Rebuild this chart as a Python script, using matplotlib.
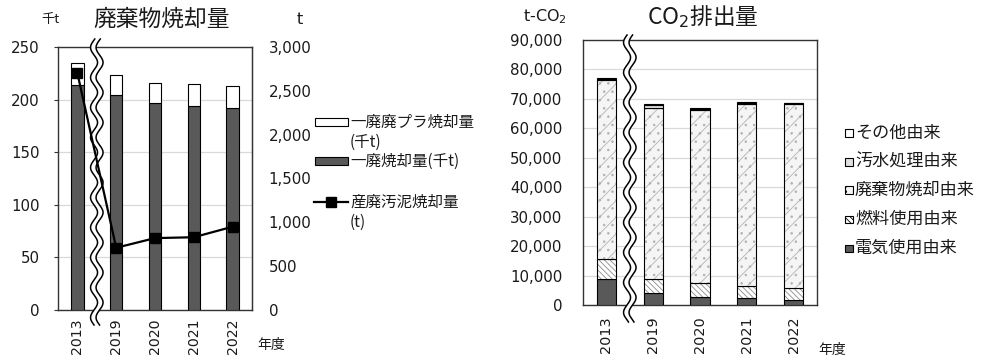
import numpy as np
import matplotlib
matplotlib.use('Agg')
import matplotlib.pyplot as plt
import matplotlib.transforms as mtransforms
from matplotlib.patches import Rectangle, Polygon
from matplotlib.lines import Line2D
from matplotlib.ticker import FuncFormatter

plt.rcParams['font.family'] = ['Noto Sans CJK JP', 'DejaVu Sans']
plt.rcParams['hatch.linewidth'] = 0.6

years = ['2013', '2019', '2020', '2021', '2022']

# 廃棄物焼却量
ippai = [214, 204, 197, 194, 192]          # 一廃焼却量 (千t)
ippai_pla = [21, 19, 19, 21, 21]           # 一廃廃プラ焼却量 (千t)
sanpai_odei = [2700, 710, 820, 830, 950]   # 産廃汚泥焼却量 (t)

# CO2排出量 (t-CO2)
co2_denki = [8800, 4100, 2700, 2300, 1800]
co2_nenryo = [6800, 4700, 4750, 4300, 4100]
co2_haiki = [60800, 58200, 58800, 61500, 62200]
co2_osui = [500, 900, 450, 450, 350]
co2_sonota = [300, 350, 230, 230, 200]

W, H = 982, 363
TXT = '#1a1a1a'
SPINE = '#333333'
NUMFONT = 'DejaVu Sans'

fig = plt.figure(figsize=(W / 100, H / 100), dpi=100)


def fx(x):
    return x / W


def fy(y):
    return 1 - y / H


def comma(v, p):
    return f'{v:,.0f}'


def draw_break(ax, y0, y1, amp_px=3.5, gap_px=5.5, period_px=30):
    # double wavy break line between the first and second category
    ax_w = ax.get_position().width * W
    ax_h = ax.get_position().height * H
    unit = ax_w / 5
    amp = amp_px / unit
    gap = gap_px / unit
    t = np.linspace(y0, y1, 500)
    wave = amp * np.sin(2 * np.pi * t * ax_h / period_px)
    xl = 0.5 - gap / 2 + wave
    xr = 0.5 + gap / 2 + wave
    trans = mtransforms.blended_transform_factory(ax.transData, ax.transAxes)
    verts = np.column_stack([np.concatenate([xl, xr[::-1]]),
                             np.concatenate([t, t[::-1]])])
    ax.add_patch(Polygon(verts, closed=True, facecolor='white', edgecolor='none',
                         transform=trans, clip_on=False, zorder=6))
    for xs in (xl, xr):
        ax.add_line(Line2D(xs, t, color='black', lw=1.1, transform=trans,
                           clip_on=False, zorder=7))


def style_frame(ax):
    for s in ax.spines.values():
        s.set_color(SPINE)
        s.set_linewidth(1.0)


x = np.arange(len(years))

# ---- 廃棄物焼却量 ----
ax1 = fig.add_axes([fx(58), fy(310), fx(194), 263 / H])
ax2 = ax1.twinx()

ax1.bar(x, ippai, 0.32, color='#595959', edgecolor='black', linewidth=0.8, zorder=3)
ax1.bar(x, ippai_pla, 0.32, bottom=ippai, color='white', edgecolor='black',
        linewidth=0.8, zorder=3)
ax1.set_xlim(-0.5, 4.5)
ax1.set_ylim(0, 250)
ax1.set_yticks(range(0, 251, 50))
ax1.yaxis.grid(True, color='#d9d9d9', lw=0.9)
ax1.set_axisbelow(True)
ax1.set_xticks(x)
ax1.set_xticklabels(years, rotation=90, fontsize=10.2, family=NUMFONT, color=TXT)
ax1.tick_params(axis='x', length=0, pad=6)
ax1.tick_params(axis='y', length=3, width=0.8, color=SPINE, pad=10, labelsize=10.8,
                labelcolor=TXT)
for lab in ax1.get_yticklabels():
    lab.set_family(NUMFONT)
style_frame(ax1)

ax2.plot(x, sanpai_odei, color='black', lw=1.6, marker='s', ms=6.5, zorder=4)
ax2.set_ylim(0, 3000)
ax2.set_yticks(range(0, 3001, 500))
ax2.yaxis.set_major_formatter(FuncFormatter(comma))
ax2.tick_params(axis='y', length=0, pad=12, labelsize=10.8, labelcolor=TXT)
for lab in ax2.get_yticklabels():
    lab.set_family(NUMFONT)
for side in ('top', 'bottom', 'left'):
    ax2.spines[side].set_visible(False)
ax2.spines['right'].set_color(SPINE)

draw_break(ax1, -15 / 263, 1 + 8 / 263)

fig.text(fx(50), fy(20), '千t', fontsize=9.5, color=TXT, ha='center', va='center')
fig.text(fx(300), fy(20), 't', fontsize=11.5, color=TXT, ha='center', va='center',
         family=NUMFONT)
fig.text(fx(162), fy(19), '廃棄物焼却量', fontsize=16.4, color=TXT, ha='center', va='center')
fig.text(fx(257), fy(345), '年度', fontsize=10, color=TXT, ha='left', va='center')

# legend
LEG = 11.2
fig.add_artist(Rectangle((fx(315), fy(126)), fx(33), 8 / H, facecolor='white',
                         edgecolor='black', lw=0.8, transform=fig.transFigure))
fig.text(fx(350), fy(122), '一廃廃プラ焼却量', fontsize=LEG, color=TXT, va='center')
fig.text(fx(350), fy(142), '(千t)', fontsize=LEG, color=TXT, va='center')
fig.add_artist(Rectangle((fx(315), fy(165)), fx(33), 8 / H, facecolor='#595959',
                         edgecolor='black', lw=0.8, transform=fig.transFigure))
fig.text(fx(350), fy(161), '一廃焼却量(千t)', fontsize=LEG, color=TXT, va='center')
fig.add_artist(Line2D([fx(314), fx(348)], [fy(202), fy(202)], color='black', lw=1.6,
                      marker=None, transform=fig.transFigure))
fig.add_artist(Line2D([fx(331)], [fy(202)], color='black', marker='s', ms=6.5,
                      transform=fig.transFigure))
fig.text(fx(350), fy(202), '産廃汚泥焼却量', fontsize=LEG, color=TXT, va='center')
fig.text(fx(350), fy(222), '(t)', fontsize=LEG, color=TXT, va='center')

# ---- CO2排出量 ----
ax3 = fig.add_axes([fx(583), fy(305), fx(234), 265 / H])

layers = [
    ('電気使用由来', co2_denki, '#595959', None, '#595959'),
    ('燃料使用由来', co2_nenryo, 'white', '\\\\\\\\\\\\', '#8c8c8c'),
    ('廃棄物焼却由来', co2_haiki, '#f5f5f5', '//..', '#b3b3b3'),
    ('汚水処理由来', co2_osui, '#e0e0e0', None, '#e0e0e0'),
    ('その他由来', co2_sonota, 'white', None, 'white'),
]

bottom = np.zeros(len(years))
for name, vals, face, hatch, hcol in layers:
    vals = np.array(vals, dtype=float)
    ax3.bar(x, vals, 0.41, bottom=bottom, color=face, edgecolor=hcol, hatch=hatch,
            linewidth=0, zorder=3)
    ax3.bar(x, vals, 0.41, bottom=bottom, fill=False, edgecolor='black',
            linewidth=0.8, zorder=3)
    bottom += vals

ax3.set_xlim(-0.5, 4.5)
ax3.set_ylim(0, 90000)
ax3.set_yticks(range(0, 90001, 10000))
ax3.yaxis.set_major_formatter(FuncFormatter(comma))
ax3.yaxis.grid(True, color='#d9d9d9', lw=0.9)
ax3.set_axisbelow(True)
ax3.set_xticks(x)
ax3.set_xticklabels(years, rotation=90, fontsize=10.4, family=NUMFONT, color=TXT)
ax3.tick_params(axis='x', length=0, pad=8)
ax3.tick_params(axis='y', length=0, pad=15, labelsize=10.8, labelcolor=TXT)
for lab in ax3.get_yticklabels():
    lab.set_family(NUMFONT)
style_frame(ax3)

draw_break(ax3, -17 / 265, 1 + 5 / 265)

fig.text(fx(545), fy(17), 't-CO$_2$', fontsize=11.5, color=TXT, ha='center', va='center',
         family=NUMFONT)
fig.text(fx(703), fy(17), 'CO$_2$排出量', fontsize=16.4, color=TXT, ha='center',
         va='center')
fig.text(fx(818), fy(350), '年度', fontsize=10, color=TXT, ha='left', va='center')

# legend, top entry first
rows = [133, 162, 190, 219, 248]
for (name, vals, face, hatch, hcol), ry in zip(layers[::-1], rows):
    fig.add_artist(Rectangle((fx(845), fy(ry + 4)), fx(7.5), 7.5 / H, facecolor=face,
                             edgecolor='black', lw=0.8, hatch=hatch,
                             transform=fig.transFigure))
    fig.text(fx(855), fy(ry), name, fontsize=12.3, color=TXT, va='center')

fig.savefig('out.png', dpi=100)
